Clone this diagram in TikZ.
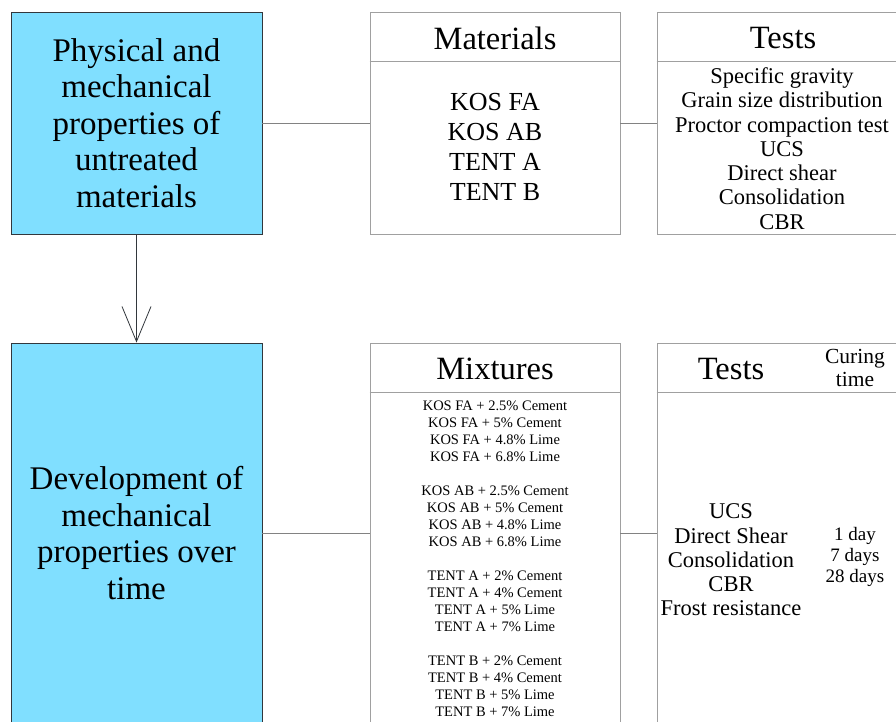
\documentclass[tikz,border=0pt]{standalone}
\usepackage{fontspec}
\setmainfont{Liberation Serif}
\usetikzlibrary{arrows.meta}
\definecolor{bluefill}{RGB}{128,223,255}
\definecolor{darkedge}{RGB}{50,55,60}
\definecolor{greyedge}{RGB}{160,160,160}
\definecolor{linkgrey}{RGB}{130,130,130}
\begin{document}
\begin{tikzpicture}[x=1pt,y=1pt,
  bluebox/.style={draw=darkedge, fill=bluefill, line width=0.9pt, minimum width=251pt, inner sep=0pt, align=center, font=\fontsize{33}{36.5}\selectfont},
  greybox/.style={draw=greyedge, line width=0.8pt, inner sep=0pt},
  divider/.style={draw=greyedge, line width=0.8pt},
  link/.style={draw=linkgrey, line width=0.8pt},
  arrowline/.style={draw=darkedge, line width=0.8pt, -{Straight Barb[length=35pt,width=29pt,line width=0.8pt]}},
  hdr/.style={inner sep=0pt, font=\fontsize{32.5}{34}\selectfont},
  biglist/.style={inner sep=0pt, align=center, font=\fontsize{26}{30}\selectfont},
  testlist/.style={inner sep=0pt, align=center, font=\fontsize{22.5}{24.3}\selectfont},
  mixlist/.style={inner sep=0pt, align=center, font=\fontsize{14.5}{17}\selectfont},
  curehdr/.style={inner sep=0pt, align=center, font=\fontsize{21.5}{23}\selectfont},
  curelist/.style={inner sep=0pt, align=center, font=\fontsize{19}{21}\selectfont}]
\clip (0,0) rectangle (896,722);
\fill[white] (0,0) rectangle (896,722);

% top row
\node[bluebox, minimum height=222pt] (phys) at (136.5,599)
  {Physical and\\mechanical\\properties of\\untreated\\materials};
\node[greybox, minimum width=250pt, minimum height=222pt] (mat) at (495,599) {};
\draw[divider] ([yshift=-50pt]mat.north west) -- ([yshift=-50pt]mat.north east);
\node[hdr] (mathdr) at (495,684) {Materials};
\node[biglist] (matlist) at (495,575) {KOS FA\\KOS AB\\TENT A\\TENT B};

\node[greybox, minimum width=252pt, minimum height=222pt] (tst) at (783,599) {};
\draw[divider] ([yshift=-50pt]tst.north west) -- ([yshift=-50pt]tst.north east);
\node[hdr] (tsthdr) at (783,684) {Tests};
\node[testlist] (tstlist) at (782,573.5)
  {Specific gravity\\Grain size distribution\\Proctor compaction test\\UCS\\Direct shear\\Consolidation\\CBR};

\draw[link] (phys.east) -- (mat.west);
\draw[link] (mat.east) -- (tst.west);

% bottom row
\node[bluebox, minimum height=380pt] (dev) at (136.5,189)
  {Development of\\mechanical\\properties over\\time};
\node[greybox, minimum width=250pt, minimum height=380pt] (mix) at (495,189) {};
\draw[divider] ([yshift=-50pt]mix.north west) -- ([yshift=-50pt]mix.north east);
\node[hdr] (mixhdr) at (495,353) {Mixtures};
\node[mixlist] (mixlist) at (495,163)
  {KOS FA + 2.5\% Cement\\KOS FA + 5\% Cement\\KOS FA + 4.8\% Lime\\KOS FA + 6.8\% Lime\\[17pt]
   KOS AB + 2.5\% Cement\\KOS AB + 5\% Cement\\KOS AB + 4.8\% Lime\\KOS AB + 6.8\% Lime\\[17pt]
   TENT A + 2\% Cement\\TENT A + 4\% Cement\\TENT A + 5\% Lime\\TENT A + 7\% Lime\\[17pt]
   TENT B + 2\% Cement\\TENT B + 4\% Cement\\TENT B + 5\% Lime\\TENT B + 7\% Lime};

\node[greybox, minimum width=252pt, minimum height=380pt] (tst2) at (783,189) {};
\draw[divider] ([yshift=-50pt]tst2.north west) -- ([yshift=-50pt]tst2.north east);
\node[hdr] (tst2hdr) at (731,353) {Tests};
\node[curehdr] (curehdr) at (855,354) {Curing\\time};
\node[testlist] (tst2list) at (731,162)
  {UCS\\Direct Shear\\Consolidation\\CBR\\Frost resistance};
\node[curelist] (curelist) at (855,165) {1 day\\7 days\\28 days};

\draw[link] (dev.east) -- (mix.west);
\draw[link] (mix.east) -- (tst2.west);

\draw[arrowline] (phys.south) -- (dev.north);
\end{tikzpicture}
\end{document}
